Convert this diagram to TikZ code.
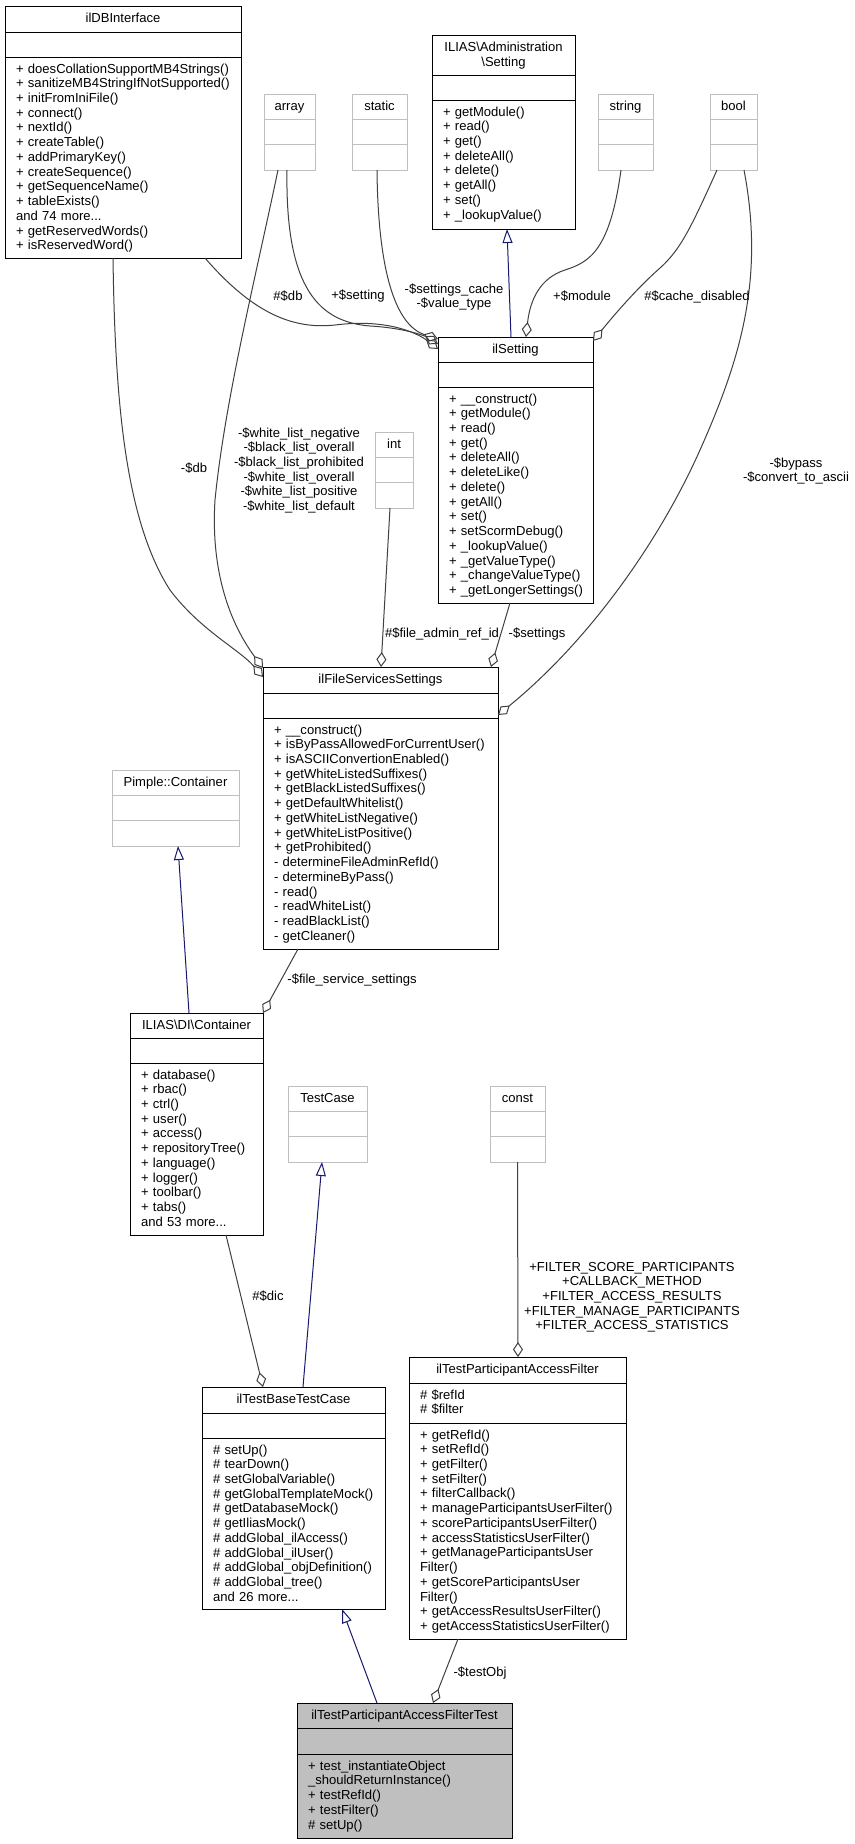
\documentclass[tikz,border=0pt]{standalone}
\usepackage{fontspec}
\setmainfont{Liberation Sans}
\usetikzlibrary{arrows.meta,calc}
\definecolor{edgegray}{HTML}{404040}
\definecolor{inhblue}{HTML}{191970}
\definecolor{ghost}{HTML}{BFBFBF}
\definecolor{focus}{HTML}{BFBFBF}
\tikzset{
  clsbox/.style={draw=black, line width=1bp, fill=white, rectangle, inner sep=0pt, outer sep=0pt},
  ghostbox/.style={draw=ghost, line width=1bp, fill=white, rectangle, inner sep=0pt, outer sep=0pt},
  focusbox/.style={draw=black, line width=1bp, fill=focus, rectangle, inner sep=0pt, outer sep=0pt},
  uml/.style={font=\fontsize{13.1}{14.8}\selectfont, inner sep=0pt, outer sep=0pt},
  clstitle/.style={uml, anchor=base, align=center, text width=300bp},
  members/.style={uml, anchor=base west, align=left, text width=260bp},
  lbl/.style={uml, anchor=base, align=center, text width=260bp},
  assoc/.style={draw=edgegray, line width=1bp, -{Diamond[open, length=15bp, width=10bp, line width=1bp]}},
  inherit/.style={draw=inhblue, line width=1bp, -{Triangle[open, length=14bp, width=10bp, line width=1bp]}},
}
% name, style, x1, y1, x2, y2, sep1, sep2, title
\newcommand{\umlclass}[9]{%
  \node[#2, anchor=north west, minimum width=#5bp-#3bp, minimum height=#6bp-#4bp] (#1) at (#3,#4) {};
  \draw[#2, fill=none] (#3,#7) -- (#5,#7);
  \draw[#2, fill=none] (#3,#8) -- (#5,#8);
  \node[clstitle] (#1-t) at ({(#3+#5)/2},{#4+16.5}) {#9};
}
\begin{document}
\begin{tikzpicture}[x=1bp, y=-1bp]
\fill[white] (0,0) rectangle (855,1844);
\useasboundingbox (0,0) rectangle (855,1844);

% ---------- classes ----------
\umlclass{dbi}{clsbox}{5}{6}{241}{258}{32}{57}{ilDBInterface}
\node[members] (dbi-m) at (16,73) {+ doesCollationSupportMB4Strings()\\+ sanitizeMB4StringIfNotSupported()\\+ initFromIniFile()\\+ connect()\\+ nextId()\\+ createTable()\\+ addPrimaryKey()\\+ createSequence()\\+ getSequenceName()\\+ tableExists()\\and 74 more...\\+ getReservedWords()\\+ isReservedWord()};

\umlclass{array}{ghostbox}{264}{94}{315}{170}{119}{144}{array}
\umlclass{static}{ghostbox}{352}{94}{407}{170}{119}{144}{static}
\umlclass{string}{ghostbox}{598}{94}{653}{170}{119}{144}{string}
\umlclass{bool}{ghostbox}{710}{94}{757}{170}{119}{144}{bool}

\umlclass{setting}{clsbox}{432}{35}{575}{229}{75}{100}{ILIAS\textbackslash Administration\\\textbackslash Setting}
\node[members] (setting-m) at (443,116) {+ getModule()\\+ read()\\+ get()\\+ deleteAll()\\+ delete()\\+ getAll()\\+ set()\\+ \_lookupValue()};

\umlclass{ilsetting}{clsbox}{438}{337}{593}{603}{362}{387}{ilSetting}
\node[members] (ilsetting-m) at (449,403) {+ \_\_construct()\\+ getModule()\\+ read()\\+ get()\\+ deleteAll()\\+ deleteLike()\\+ delete()\\+ getAll()\\+ set()\\+ setScormDebug()\\+ \_lookupValue()\\+ \_getValueType()\\+ \_changeValueType()\\+ \_getLongerSettings()};

\umlclass{int}{ghostbox}{375}{432}{413}{508}{457}{482}{int}

\umlclass{fss}{clsbox}{263}{667}{498}{949}{693}{718}{ilFileServicesSettings}
\node[members] (fss-m) at (274,734) {+ \_\_construct()\\+ isByPassAllowedForCurrentUser()\\+ isASCIIConvertionEnabled()\\+ getWhiteListedSuffixes()\\+ getBlackListedSuffixes()\\+ getDefaultWhitelist()\\+ getWhiteListNegative()\\+ getWhiteListPositive()\\+ getProhibited()\\- determineFileAdminRefId()\\- determineByPass()\\- read()\\- readWhiteList()\\- readBlackList()\\- getCleaner()};

\umlclass{pimple}{ghostbox}{112}{770}{239}{846}{795}{820}{Pimple::Container}

\umlclass{dic}{clsbox}{130}{1013}{263}{1235}{1038}{1063}{ILIAS\textbackslash DI\textbackslash Container}
\node[members] (dic-m) at (141,1079) {+ database()\\+ rbac()\\+ ctrl()\\+ user()\\+ access()\\+ repositoryTree()\\+ language()\\+ logger()\\+ toolbar()\\+ tabs()\\and 53 more...};

\umlclass{testcase}{ghostbox}{288}{1086}{367}{1162}{1111}{1136}{TestCase}
\umlclass{const}{ghostbox}{490}{1086}{545}{1162}{1111}{1136}{const}

\umlclass{base}{clsbox}{202}{1387}{385}{1609}{1413}{1438}{ilTestBaseTestCase}
\node[members] (base-m) at (213,1454) {\# setUp()\\\# tearDown()\\\# setGlobalVariable()\\\# getGlobalTemplateMock()\\\# getDatabaseMock()\\\# getIliasMock()\\\# addGlobal\_ilAccess()\\\# addGlobal\_ilUser()\\\# addGlobal\_objDefinition()\\\# addGlobal\_tree()\\and 26 more...};

\umlclass{filter}{clsbox}{409}{1357}{626}{1639}{1383}{1423}{ilTestParticipantAccessFilter}
\node[members] (filter-a) at (420,1399) {\# \$refId\\\# \$filter};
\node[members] (filter-m) at (420,1439) {+ getRefId()\\+ setRefId()\\+ getFilter()\\+ setFilter()\\+ filterCallback()\\+ manageParticipantsUserFilter()\\+ scoreParticipantsUserFilter()\\+ accessStatisticsUserFilter()\\+ getManageParticipantsUser\\Filter()\\+ getScoreParticipantsUser\\Filter()\\+ getAccessResultsUserFilter()\\+ getAccessStatisticsUserFilter()};

\umlclass{test}{focusbox}{297}{1703}{512}{1838}{1728}{1754}{ilTestParticipantAccessFilterTest}
\node[members] (test-m) at (308,1770) {+ test\_instantiateObject\\\_shouldReturnInstance()\\+ testRefId()\\+ testFilter()\\\# setUp()};

% ---------- connectors ----------
% inheritance
\draw[inherit] ($(ilsetting.north west)+(73,0)$) -- ($(setting.south west)+(75,0)$);
\draw[inherit] ($(dic.north west)+(59,0)$) -- ($(pimple.south west)+(66,0)$);
\draw[inherit] ($(base.north west)+(101,0)$) -- ($(testcase.south west)+(34,0)$);
\draw[inherit] ($(test.north west)+(80,0)$) -- ($(base.south west)+(140,0)$);

% associations into ilSetting
\draw[assoc] ($(static.south west)+(25,0)$) .. controls (378,270) and (395,325) .. ($(ilsetting.north west)+(0,2)$);
\draw[assoc] ($(array.south west)+(23,0)$) .. controls (285,290) and (320,322) .. (370,326) .. controls (405,328) and (425,336) .. ($(ilsetting.north west)+(0,7)$);
\draw[assoc] ($(dbi.south west)+(200,0)$) .. controls (250,310) and (290,330) .. (335,325) .. controls (390,318) and (420,335) .. ($(ilsetting.north west)+(0,12)$);
\draw[assoc] ($(string.south west)+(23,0)$) .. controls (610,250) and (590,262) .. (565,270) .. controls (540,278) and (530,300) .. ($(ilsetting.north west)+(88,0)$);
\draw[assoc] ($(bool.south west)+(7,0)$) .. controls (690,230) and (680,250) .. (660,268) .. controls (635,290) and (610,320) .. ($(ilsetting.north east)+(0,4)$);

% associations into ilFileServicesSettings
\draw[assoc] ($(bool.south west)+(34,0)$) .. controls (765,280) and (740,360) .. (700,450) .. controls (660,540) and (590,640) .. ($(fss.north east)+(0,48)$);
\draw[assoc] ($(dbi.south west)+(108,0)$) .. controls (115,400) and (125,520) .. (170,590) .. controls (200,630) and (240,650) .. ($(fss.north west)+(0,10)$);
\draw[assoc] ($(array.south west)+(14,0)$) .. controls (255,280) and (225,400) .. (215,500) .. controls (210,580) and (235,630) .. ($(fss.north west)+(0,1)$);
\draw[assoc] ($(int.south west)+(15,0)$) -- ($(fss.north west)+(118,0)$);
\draw[assoc] ($(ilsetting.south west)+(72,0)$) -- ($(fss.north west)+(228,0)$);

% others
\draw[assoc] ($(fss.south west)+(35,0)$) -- (dic.north east);
\draw[assoc] ($(dic.south west)+(96,0)$) -- ($(base.north west)+(61,0)$);
\draw[assoc] (const.south) -- ($(filter.north west)+(109,0)$);
\draw[assoc] ($(filter.south west)+(49,0)$) -- ($(test.north west)+(136,0)$);

% ---------- labels ----------
\node[lbl] (l-db1) at (288,300) {\#\$db};
\node[lbl] (l-setting) at (358,299) {+\$setting};
\node[lbl] (l-cache) at (454,293) {-\$settings\_cache\\-\$value\_type};
\node[lbl] (l-module) at (582,300) {+\$module};
\node[lbl] (l-cdis) at (697,300) {\#\$cache\_disabled};
\node[lbl] (l-db2) at (194,472) {-\$db};
\node[lbl] (l-wl) at (299,437) {-\$white\_list\_negative\\-\$black\_list\_overall\\-\$black\_list\_prohibited\\-\$white\_list\_overall\\-\$white\_list\_positive\\-\$white\_list\_default};
\node[lbl] (l-far) at (442,637) {\#\$file\_admin\_ref\_id};
\node[lbl] (l-settings) at (537,637) {-\$settings};
\node[lbl] (l-bypass) at (796,467) {-\$bypass\\-\$convert\_to\_ascii};
\node[lbl] (l-fss) at (352,983) {-\$file\_service\_settings};
\node[lbl] (l-dic) at (268,1300) {\#\$dic};
\node[lbl] (l-const) at (632,1271) {+FILTER\_SCORE\_PARTICIPANTS\\+CALLBACK\_METHOD\\+FILTER\_ACCESS\_RESULTS\\+FILTER\_MANAGE\_PARTICIPANTS\\+FILTER\_ACCESS\_STATISTICS};
\node[lbl] (l-testobj) at (480,1676) {-\$testObj};
\end{tikzpicture}
\end{document}
